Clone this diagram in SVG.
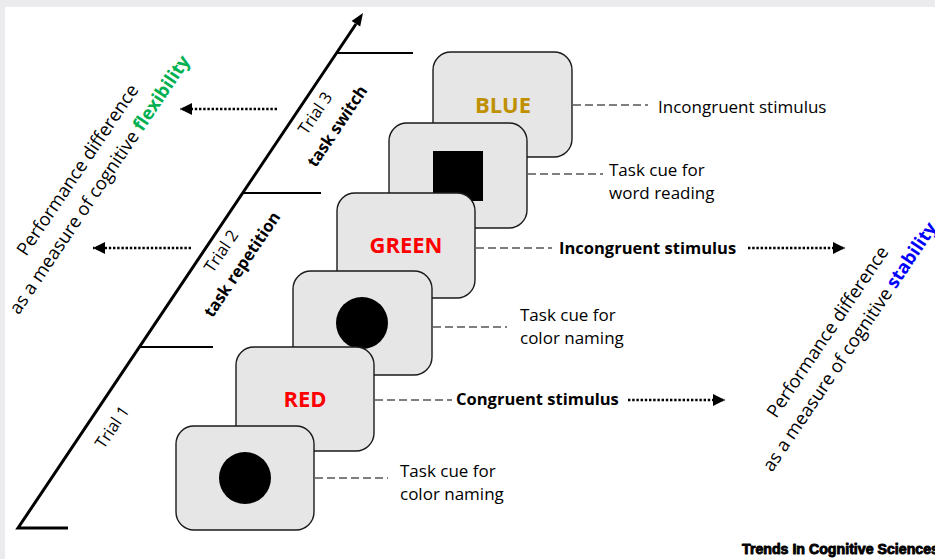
<svg xmlns="http://www.w3.org/2000/svg" width="935" height="559" viewBox="0 0 935 559">
<style>
text{font-family:"Open Sans","Liberation Sans",sans-serif;fill:#000}
.lab{font-size:17px}
.lb{font-size:16.5px;font-weight:bold}
.big{font-size:18.3px}
.ax{font-size:16.5px}
.b{font-weight:bold}
.card{fill:#E6E6E6;stroke:#1a1a1a;stroke-width:1.4}
.word{font-size:22px;font-weight:bold;text-anchor:middle}
.dash{stroke:#555;stroke-width:1.4;stroke-dasharray:8 4;fill:none}
.dot{stroke:#000;stroke-width:2.6;stroke-dasharray:2.4 1.8;fill:none}
.tick{stroke:#000;stroke-width:2.2}
</style>
<defs>
<marker id="ah" markerUnits="userSpaceOnUse" markerWidth="13" markerHeight="13" refX="12" refY="6" orient="auto">
<path d="M0,0 L12,6 L0,12 Z" fill="#000"/>
</marker>
</defs>
<rect x="0" y="0" width="935" height="559" fill="#EBEBEE"/>
<rect x="5" y="7" width="930" height="552" fill="#fff"/>

<g id="timeline">
<path d="M68,528 L18,528 L356,24" fill="none" stroke="#000" stroke-width="3" stroke-linejoin="miter"/>
<polygon points="363,13 360.2,26.6 351.6,21" fill="#000"/>
<line class="tick" x1="139" y1="347" x2="213" y2="347"/>
<line class="tick" x1="242" y1="193" x2="321" y2="193"/>
<line class="tick" x1="336" y1="53" x2="413" y2="53"/>
<text class="ax" text-anchor="middle" transform="translate(112,427) rotate(-56)" y="6">Trial 1</text>
<text class="ax" text-anchor="middle" transform="translate(221,251) rotate(-56)" y="6">Trial 2</text>
<text class="ax b" text-anchor="middle" transform="translate(243,265) rotate(-56)" y="4.5">task repetition</text>
<text class="ax" text-anchor="middle" transform="translate(315,113) rotate(-56)" y="6">Trial 3</text>
<text class="ax b" text-anchor="middle" transform="translate(337,126) rotate(-56)" y="6">task switch</text>
</g>

<g id="flexibility-label">
<text class="big" text-anchor="middle" transform="translate(89,177.5) rotate(-56)"><tspan x="0" y="-7.5">Performance difference</tspan><tspan x="0" y="19">as a measure of cognitive <tspan class="b" style="fill:#00B050">flexibility</tspan></tspan></text>
</g>

<g id="stability-label">
<text class="big" text-anchor="middle" transform="translate(839,339.5) rotate(-56)"><tspan x="0" y="-7.5">Performance difference</tspan><tspan x="0" y="19">as a measure of cognitive <tspan class="b" style="fill:#0000FF">stability</tspan></tspan></text>
</g>

<g id="card6">
<rect class="card" x="433" y="52" width="139" height="105" rx="18"/>
<text class="word" x="503" y="113" style="fill:#BF9000">BLUE</text>
<text class="lab" x="658" y="113">Incongruent stimulus</text>
</g>
<g id="card5">
<rect class="card" x="389" y="123" width="138" height="105" rx="18"/>
<rect x="433" y="151" width="50" height="50" fill="#000"/>
<text class="lab" x="609" y="176">Task cue for</text>
<text class="lab" x="609" y="199">word reading</text>
</g>
<g id="card4">
<rect class="card" x="337" y="193" width="138" height="105" rx="18"/>
<text class="word" x="406" y="253" style="fill:#FF0000">GREEN</text>
<text class="lb" x="559" y="254">Incongruent stimulus</text>
</g>
<g id="card3">
<rect class="card" x="293" y="271" width="139" height="104" rx="18"/>
<circle cx="362" cy="323" r="26" fill="#000"/>
<text class="lab" x="520" y="321">Task cue for</text>
<text class="lab" x="520" y="344">color naming</text>
</g>
<g id="card2">
<rect class="card" x="236" y="347" width="138" height="104" rx="18"/>
<text class="word" x="305" y="407" style="fill:#FF0000">RED</text>
<text class="lb" x="456" y="405">Congruent stimulus</text>
</g>
<g id="card1">
<rect class="card" x="176" y="426" width="138" height="104" rx="18"/>
<circle cx="245" cy="478" r="26" fill="#000"/>
<text class="lab" x="400" y="477">Task cue for</text>
<text class="lab" x="400" y="500">color naming</text>
</g>

<g id="connectors">
<line class="dash" x1="573" y1="105" x2="648" y2="105"/>
<line class="dash" x1="528" y1="174" x2="603" y2="174"/>
<line class="dash" x1="476" y1="248" x2="552" y2="248"/>
<line class="dash" x1="433" y1="327" x2="507" y2="327"/>
<line class="dash" x1="375" y1="400" x2="452" y2="400"/>
<line class="dash" x1="315" y1="478" x2="388" y2="478"/>
<line class="dot" x1="748" y1="248" x2="845" y2="248" marker-end="url(#ah)"/>
<line class="dot" x1="628" y1="400" x2="725" y2="400" marker-end="url(#ah)"/>
<line class="dot" x1="277" y1="109" x2="180" y2="109" marker-end="url(#ah)"/>
<line class="dot" x1="191" y1="248" x2="93" y2="248" marker-end="url(#ah)"/>
</g>

<text x="742" y="554" textLength="197" lengthAdjust="spacingAndGlyphs" style="font-family:'Liberation Sans',Arial,sans-serif;font-size:14px;font-weight:bold;stroke:#000;stroke-width:0.9;stroke-linejoin:round">Trends In Cognitive Sciences</text>
</svg>
